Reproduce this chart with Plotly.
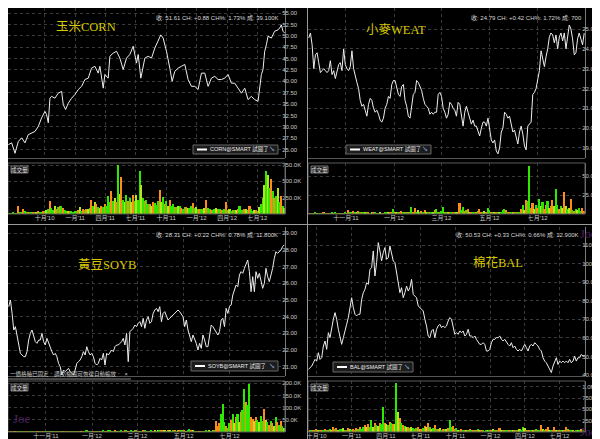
import plotly.graph_objects as go
import pandas as pd

W, H = 600, 439

# ================= DATA =================
# ---- CORN 玉米 ----
corn_dates = ["2010-06-14","2010-06-24","2010-07-04","2010-07-14","2010-07-24","2010-08-03","2010-08-13","2010-08-23","2010-09-02","2010-09-12",
              "2010-09-22","2010-10-02","2010-10-07","2010-10-12","2010-10-17","2010-10-22","2010-11-01","2010-11-11","2010-11-21","2010-11-26",
              "2010-12-03","2010-12-11","2010-12-21","2010-12-31","2011-01-10","2011-01-20","2011-01-30","2011-02-09","2011-02-19","2011-03-01",
              "2011-03-11","2011-03-16","2011-03-26","2011-03-31","2011-04-10","2011-04-15","2011-04-25","2011-05-05","2011-05-15","2011-05-25",
              "2011-06-04","2011-06-14","2011-06-24","2011-07-04","2011-07-09","2011-07-17","2011-07-24","2011-07-29","2011-08-08","2011-08-18",
              "2011-08-28","2011-09-07","2011-09-15","2011-09-22","2011-10-02","2011-10-12","2011-10-19","2011-10-27","2011-11-06","2011-11-16",
              "2011-11-26","2011-12-06","2011-12-16","2011-12-26","2012-01-05","2012-01-15","2012-01-25","2012-02-04","2012-02-14","2012-02-24",
              "2012-03-05","2012-03-15","2012-03-25","2012-04-04","2012-04-14","2012-04-24","2012-05-04","2012-05-14","2012-05-24","2012-06-03",
              "2012-06-13","2012-06-23","2012-07-03","2012-07-08","2012-07-13","2012-07-18","2012-07-23","2012-07-28","2012-08-02","2012-08-12",
              "2012-08-22","2012-09-01","2012-09-06","2012-09-11","2012-09-16","2012-09-21"]
corn_close = [26.1, 26.5, 24.2, 26.8, 27.6, 26.5, 28.3, 28.7, 29.0, 30.1,
              32.0, 33.4, 32.7, 30.9, 36.3, 36.7, 36.3, 37.4, 37.8, 34.9,
              33.8, 35.2, 36.3, 37.1, 38.2, 38.9, 40.4, 40.7, 42.9, 43.3,
              41.8, 43.3, 38.5, 41.5, 40.7, 45.5, 46.2, 46.6, 45.1, 42.6,
              45.1, 45.9, 47.7, 44.0, 45.9, 40.7, 43.7, 45.1, 45.5, 45.1,
              47.3, 49.1, 50.2, 49.5, 46.6, 42.9, 40.0, 42.2, 42.9, 43.3,
              43.7, 40.4, 38.9, 38.9, 38.2, 41.8, 41.8, 38.9, 40.7, 41.1,
              40.4, 40.4, 40.7, 41.5, 39.6, 39.6, 38.5, 37.4, 38.5, 36.0,
              36.7, 36.0, 35.6, 38.5, 41.5, 42.6, 46.6, 48.0, 49.9, 49.5,
              51.0, 51.3, 51.7, 52.4, 51.0, 50.6]
corn_span = ["2010-06-14", "2012-09-21"]
corn_vol_k = [10, 15, 10, 20, 15, 10, 120, 20, 30, 80,
              40, 25, 20, 30, 25, 20, 30, 25, 40, 35,
              30, 45, 40, 60, 80, 200, 90, 60, 130, 70,
              100, 130, 120, 90, 60, 40, 50, 45, 40, 35,
              50, 45, 60, 100, 50, 70, 60, 80, 70, 90,
              210, 120, 180, 150, 110, 90, 130, 100, 160, 120,
              270, 180, 350, 200, 250, 180, 745, 300, 560, 220,
              180, 290, 200, 250, 180, 290, 200, 290, 220, 665,
              450, 250, 200, 220, 150, 160, 130, 180, 170, 140,
              200, 370, 180, 260, 150, 200, 130, 220, 120, 160,
              100, 110, 130, 120, 90, 80, 100, 110, 90, 90,
              120, 170, 90, 110, 80, 80, 70, 80, 90, 210,
              90, 80, 60, 60, 80, 90, 70, 80, 60, 55,
              70, 185, 60, 70, 50, 55, 60, 65, 70, 130,
              60, 55, 70, 80, 60, 130, 70, 50, 55, 60,
              50, 110, 150, 240, 450, 660, 600, 400, 530, 350,
              240, 270, 400, 190, 270, 130, 90]
corn_vol_dir = ("goggogoggo ggoggogyog gogygoggyo gogoggyogg ggoygogoyg ogyogyogog ggogyogyog ygogyogygg "
                "ygoggoyogg goygogyogg ogygoggoyg gogygoggyo ggoggyogog gogygogyog ggoygoggyo gyggygygog ogygogy")

# ---- WEAT 小麥 ----
weat_span = ["2011-09-15", "2012-08-29"]
weat_close = [24.55, 24.8, 24.2, 23.0, 23.7, 23.8, 23.3, 22.8, 22.9, 23.0,
              22.9, 22.8, 22.9, 23.4, 22.7, 22.9, 22.5, 22.8, 23.2, 23.3,
              22.9, 24.0, 23.2, 23.0, 22.9, 23.1, 23.9, 23.0, 22.6, 22.3,
              22.0, 21.4, 21.1, 21.2, 20.9, 20.6, 21.2, 21.5, 21.4, 21.0,
              20.8, 20.9, 20.7, 20.4, 20.3, 20.5, 21.0, 21.2, 21.6, 21.5,
              22.2, 22.4, 22.4, 22.1, 21.7, 21.6, 22.1, 22.2, 21.4, 21.1,
              20.6, 20.5, 21.0, 21.7, 21.8, 22.4, 22.3, 22.1, 21.9, 21.5,
              21.2, 21.1, 21.0, 20.7, 20.8, 20.7, 20.8, 20.8, 21.7, 21.8,
              21.6, 21.0, 20.8, 20.5, 20.7, 21.3, 21.2, 21.0, 20.9, 20.6,
              21.3, 21.2, 20.7, 20.1, 20.8, 21.1, 20.8, 20.5, 20.2, 20.4,
              20.1, 20.1, 19.8, 19.6, 20.0, 20.3, 20.3, 20.1, 20.5, 19.8,
              19.4, 19.25, 19.4, 18.85, 18.7, 19.0, 19.8, 20.0, 20.8, 20.7,
              20.5, 20.6, 20.1, 19.8, 19.9, 19.6, 19.2, 19.8, 20.1, 19.7,
              19.1, 18.9, 20.1, 20.2, 20.3, 21.7, 21.8, 22.0, 22.4, 22.9,
              23.9, 23.5, 23.1, 23.6, 24.0, 24.6, 24.8, 24.7, 24.3, 24.7,
              24.0, 24.6, 24.8, 24.4, 24.8, 24.0, 24.5, 25.2, 25.0, 24.5,
              23.7, 23.8, 24.5, 24.8, 24.5, 24.2, 24.79]
weat_vol_k = [1, 1, 0.5, 1, 1.5, 1, 1, 0.5, 1, 2,
              1, 1, 0.5, 1, 1.5, 1, 2, 1, 1, 0.5,
              1, 1, 1.5, 1, 5.5, 3, 2, 4, 2, 3,
              4, 2, 3, 2, 2, 1.5, 2, 1, 2, 1.5,
              2, 1, 1, 1.5, 1, 1, 2, 1.5, 2, 2,
              3, 6, 3, 2, 2, 3, 4, 2, 2, 3,
              2, 2, 9, 3, 8, 3, 5, 2, 4, 3,
              5, 3, 2, 3, 2, 3, 5, 6, 3, 2,
              4, 9, 3, 2, 3, 2, 3, 2, 3, 2,
              3, 14, 5, 9, 4, 5, 7, 3, 3, 2,
              3, 2, 4, 7, 3, 2, 4, 3, 8, 5,
              3, 2, 3, 2, 3, 3, 2, 5, 7, 5,
              3, 2, 2, 3, 2, 2, 3, 3, 6, 12,
              5, 18, 17, 63, 8, 14, 6, 12, 8, 20,
              10, 16, 6, 12, 17, 8, 10, 18, 10, 33,
              12, 6, 10, 8, 29, 10, 6, 8, 20, 5,
              4, 6, 5, 8, 4, 8, 4]
weat_vol_dir = ("gogogygogo ggoogygogo gogooggogy ogogygogyo gogygoggyo ogoygooggo gogoogygog oygogyoggo "
                "ggogyogogy yoggogoyog gogoogyogg ogyogygggo gogyogogog yoggooygog ygoogyooyg gogyoygyog ogyggoo")

# ---- SOYB 黃豆 ----
soyb_span = ["2011-09-13", "2012-09-11"]
soyb_close = [24.6, 25.0, 24.2, 23.2, 23.4, 22.8, 22.2, 21.8, 21.7, 21.6,
              21.6, 21.9, 22.6, 23.0, 23.2, 22.9, 22.5, 22.4, 22.6, 22.6,
              23.0, 22.5, 22.3, 22.7, 22.4, 22.1, 21.9, 21.7, 21.8, 21.6,
              21.2, 21.0, 20.5, 20.8, 20.7, 20.8, 20.9, 20.7, 20.6, 20.5,
              20.8, 21.2, 21.3, 21.4, 21.6, 21.9, 21.7, 22.2, 21.9, 21.7,
              21.8, 21.6, 21.2, 21.1, 21.2, 21.5, 21.4, 21.8, 21.1, 21.8,
              21.7, 21.9, 22.0, 21.9, 22.2, 22.3, 22.3, 22.4, 22.5, 22.7,
              22.3, 23.0, 21.3, 23.1, 23.2, 23.3, 23.5, 23.4, 23.6, 23.7,
              23.4, 23.9, 23.3, 23.8, 24.0, 23.6, 23.7, 24.2, 24.4, 24.5,
              24.3, 24.6, 23.7, 24.2, 24.3, 24.0, 23.8, 23.9, 24.0, 24.1,
              24.2, 24.3, 24.4, 24.3, 24.1, 24.0, 23.4, 23.8, 23.2, 22.9,
              22.5, 22.9, 22.7, 22.4, 22.0, 22.4, 22.1, 22.9, 22.6, 22.2,
              22.2, 23.0, 23.5, 23.4, 23.2, 23.0, 22.9, 23.1, 23.8, 23.9,
              23.4, 24.5, 24.2, 24.6, 24.7, 25.3, 25.6, 25.9, 25.8, 26.5,
              26.7, 26.6, 26.9, 27.1, 27.4, 26.7, 25.5, 26.4, 25.5, 26.7,
              26.3, 26.6, 26.1, 25.7, 26.0, 26.9, 26.4, 26.1, 26.5, 26.9,
              27.5, 27.9, 27.8, 27.9, 28.0, 28.2, 28.31]
soyb_vol_k = [2, 1, 2, 1, 3, 2, 1, 2, 1, 2,
              1, 2, 1, 1, 2, 1, 2, 1, 1, 2,
              1, 2, 1, 2, 1, 1, 2, 1, 2, 1,
              2, 1, 3, 2, 1, 2, 1, 2, 1, 2,
              1, 2, 1, 2, 1, 2, 1, 5, 3, 2,
              2, 1, 2, 1, 2, 3, 2, 8, 3, 2,
              6, 10, 3, 4, 8, 3, 4, 2, 5, 3,
              8, 6, 4, 3, 5, 3, 8, 5, 3, 3,
              4, 5, 8, 3, 4, 3, 6, 3, 5, 4,
              8, 7, 5, 8, 6, 4, 8, 5, 4, 6,
              8, 4, 6, 10, 6, 5, 8, 4, 6, 12,
              10, 8, 4, 3, 3, 4, 4, 3, 4, 10,
              4, 5, 3, 5, 8, 45, 25, 35, 75, 115,
              40, 25, 15, 35, 50, 75, 35, 60, 75, 40,
              80, 90, 175, 125, 110, 195, 60, 55, 45, 60,
              50, 40, 65, 45, 95, 50, 40, 30, 45, 35,
              25, 60, 40, 30, 45, 25, 15]
soyb_vol_dir = ("gogoygogog ogoggogoyo gogoggyogo gogyogogog ogogyoggog gogogyoggo ggogoygogo ogyogyogoy "
                "gogogygoyg ygooygoygg ogyoggoygg oygogyogog gygogooogg goggogyogy oggoggooyo gyggoygogo ygogogy")

# ---- BAL 棉花 ----
bal_span = ["2010-09-09", "2012-09-05"]
bal_close = [43.0, 44.0, 44.8, 46.6, 48.4, 47.5, 52.0, 48.4, 49.3, 55.6,
             58.3, 53.8, 62.8, 60.1, 66.4, 70.0, 73.6, 70.0, 64.6, 61.0,
             56.5, 60.1, 64.6, 67.3, 70.9, 76.3, 81.6, 76.3, 72.7, 71.8,
             72.7, 72.7, 80.7, 84.3, 86.1, 89.7, 88.8, 96.9, 97.8, 106.8,
             93.3, 100.5, 111.3, 106.8, 101.4, 105.9, 108.6, 102.3, 103.2, 109.5,
             105.0, 101.4, 100.5, 94.2, 90.6, 84.3, 87.0, 81.6, 84.3, 87.9,
             85.2, 87.0, 91.5, 83.4, 82.5, 81.6, 77.2, 76.3, 75.4, 74.5,
             70.0, 66.4, 61.0, 60.1, 63.7, 64.6, 60.1, 64.6, 66.4, 67.3,
             65.5, 66.4, 65.5, 66.4, 69.1, 70.9, 70.0, 66.4, 61.9, 62.8,
             61.9, 63.7, 62.8, 63.7, 61.0, 61.9, 64.6, 61.0, 61.0, 60.1,
             61.0, 59.2, 57.4, 56.5, 56.5, 57.4, 56.5, 52.9, 52.9, 53.8,
             57.4, 59.2, 59.2, 60.1, 60.1, 61.0, 59.2, 58.3, 59.2, 57.4,
             56.5, 55.6, 57.4, 54.7, 55.6, 53.8, 52.9, 53.8, 52.9, 54.7,
             56.5, 54.7, 52.9, 55.6, 56.5, 55.6, 57.4, 56.5, 55.6, 53.8,
             52.9, 49.3, 47.5, 46.6, 44.8, 43.0, 41.3, 44.8, 47.5, 49.3,
             45.7, 47.5, 46.6, 47.5, 46.6, 47.5, 46.6, 48.4, 46.6, 47.5,
             50.2, 47.5, 49.3, 49.3, 51.1, 50.2, 50.53]
bal_vol_k = [20, 30, 40, 25, 40, 60, 30, 50, 40, 30,
             60, 40, 50, 70, 40, 100, 60, 90, 50, 70,
             60, 80, 50, 40, 90, 60, 40, 70, 50, 80,
             60, 100, 70, 110, 150, 100, 170, 120, 270, 120,
             200, 150, 140, 190, 170, 560, 200, 180, 150, 230,
             200, 170, 180, 1080, 445, 300, 200, 150, 130, 120,
             100, 80, 120, 90, 70, 80, 100, 60, 70, 90,
             130, 120, 200, 100, 60, 80, 150, 70, 60, 80,
             50, 60, 70, 60, 80, 260, 100, 130, 60, 90,
             50, 40, 60, 50, 40, 50, 40, 60, 30, 50,
             40, 30, 60, 40, 30, 40, 20, 40, 30, 50,
             30, 60, 40, 30, 50, 80, 40, 30, 40, 50,
             40, 30, 40, 30, 50, 40, 30, 60, 50, 100,
             80, 40, 30, 50, 40, 30, 40, 60, 40, 50,
             150, 70, 40, 60, 120, 40, 30, 40, 100, 50,
             40, 30, 40, 50, 30, 120, 60, 30, 40, 30,
             20, 40, 30, 50, 60, 30, 20]
bal_vol_dir = ("gogogoygog ogogyogoyg gyogoygogo goggoyoggy ogyoggoygo goygyogogy ogygogoyog oyogygogoy "
               "gogyoggoog ygogoygogo gogyogogyg oygogoygog gogyogoygg yogogyogog oygooygooy gogyoogogy ogygogg")

# ---- tick labels ----
quarter_ticks = ["2010-10-01", "2011-01-01", "2011-04-01", "2011-07-01",
                 "2011-10-01", "2012-01-01", "2012-04-01", "2012-07-01"]
quarter_labels = ["十月'10", "一月'11", "四月'11", "七月'11", "十月'11", "一月'12", "四月'12", "七月'12"]
bimonth_ticks = ["2011-11-01", "2012-01-01", "2012-03-01", "2012-05-01", "2012-07-01"]
bimonth_labels = ["十一月'11", "一月'12", "三月'12", "五月'12", "七月'12"]

corn_yticks = [25, 27.5, 30, 32.5, 35, 37.5, 40, 42.5, 45, 47.5, 50, 52.5, 55]
weat_yticks = [19, 20, 21, 22, 23, 24, 25]
soyb_yticks = [21, 22, 23, 24, 25, 26, 27, 28, 29]
bal_yticks = [40, 50, 60, 70, 80, 90, 100, 110]
corn_vticks, corn_vlabels = [250, 500, 750], ["250.0K", "500.0K", "750.0K"]
weat_vticks, weat_vlabels = [25, 50], ["25.0K", "50.0K"]
soyb_vticks, soyb_vlabels = [50, 100, 150, 200], ["50.0K", "100.0K", "150.0K", "200.0K"]
bal_vticks, bal_vlabels = [250, 500, 750, 1000], ["250.0K", "500.0K", "750.0K", "1.0M"]

headers = ["收: 51.61 CH: +0.88 CH%: 1.73% 成: 39.100K",
           "收: 24.79 CH: +0.42 CH%: 1.72% 成: 700",
           "收: 28.31 CH: +0.22 CH%: 0.78% 成: 11.800K",
           "收: 50.53 CH: +0.33 CH%: 0.66% 成: 12.900K"]
titles = ["玉米CORN", "小麥WEAT", "黃豆SOYB", "棉花BAL"]
legend_names = ["CORN@SMART 試圖了", "WEAT@SMART 試圖了", "SOYB@SMART 試圖了", "BAL@SMART 試圖了"]

# ================= STYLE =================
COL = {"g": "#2ee800", "o": "#ff8c1a", "y": "#b5e51d"}
GRID = "#3a3a3a"
AXIS = "#7a7a7a"
TXT = "#c8c8c8"
SANS = "Liberation Sans, Arial, Noto Sans CJK TC, sans-serif"
SERIF = "Liberation Serif, Noto Sans CJK TC, serif"


def xd(px):
    return px / W


def yd(py):
    return 1 - py / H


def sfx(n):
    return "" if n == 1 else str(n)


fig = go.Figure()
layout = {}
shapes = []
annotations = []


def note(text, x, y, size, color, family=SANS, xanchor="center", yanchor="middle"):
    annotations.append(dict(text=text, x=xd(x), y=yd(y), xref="paper", yref="paper", showarrow=False,
                            font=dict(size=size, color=color, family=family), xanchor=xanchor, yanchor=yanchor,
                            borderpad=0))


def rect(x0, y0, x1, y1, line="#666", fill="rgba(0,0,0,0)", width=1):
    shapes.append(dict(type="rect", xref="paper", yref="paper", x0=xd(x0), x1=xd(x1), y0=yd(y0), y1=yd(y1),
                       line=dict(color=line, width=width), fillcolor=fill, layer="above"))


def seg(x0, y0, x1, y1, color, width=1):
    shapes.append(dict(type="line", xref="paper", yref="paper", x0=xd(x0), x1=xd(x1), y0=yd(y0), y1=yd(y1),
                       line=dict(color=color, width=width), layer="above"))


panels = [
    dict(pd_x=corn_dates, close=corn_close, vol=corn_vol_k, vdir=corn_vol_dir, span=corn_span,
         xt=quarter_ticks, xl=quarter_labels, x0=0, x1=277, ptop=0, pbot=150, vtop=155, vbot=206,
         yr=[23.17, 56.10], ytv=corn_yticks, vr=[0, 782], vtv=corn_vticks, vtt=corn_vlabels),
    dict(pd_x=None, close=weat_close, vol=weat_vol_k, vdir=weat_vol_dir, span=weat_span,
         xt=bimonth_ticks, xl=bimonth_labels, x0=300, x1=577, ptop=0, pbot=150, vtop=155, vbot=206,
         yr=[18.49, 26.06], ytv=weat_yticks, vr=[0, 67.1], vtv=weat_vticks, vtt=weat_vlabels),
    dict(pd_x=None, close=soyb_close, vol=soyb_vol_k, vdir=soyb_vol_dir, span=soyb_span,
         xt=bimonth_ticks, xl=bimonth_labels, x0=0, x1=277, ptop=219, pbot=368, vtop=373, vbot=424,
         yr=[20.44, 29.38], ytv=soyb_yticks, vr=[0, 209], vtv=soyb_vticks, vtt=soyb_vlabels),
    dict(pd_x=None, close=bal_close, vol=bal_vol_k, vdir=bal_vol_dir, span=bal_span,
         xt=quarter_ticks, xl=quarter_labels, x0=300, x1=577, ptop=219, pbot=368, vtop=373, vbot=424,
         yr=[39.46, 119.69], ytv=bal_yticks, vr=[0, 1125], vtv=bal_vticks, vtt=bal_vlabels),
]

for i, p in enumerate(panels):
    n = i + 1
    m = i + 5
    start, end = pd.Timestamp(p["span"][0]), pd.Timestamp(p["span"][1])
    px_dates = pd.to_datetime(p["pd_x"]) if p["pd_x"] is not None else pd.date_range(start, end, periods=len(p["close"]))
    v_dates = pd.date_range(start, end, periods=len(p["vol"]))
    step_ms = (end - start).total_seconds() * 1000 / (len(p["vol"]) - 1)
    dirs = p["vdir"].replace(" ", "")
    colors = [COL.get(dirs[k] if k < len(dirs) else "g", COL["g"]) for k in range(len(p["vol"]))]

    fig.add_trace(go.Bar(x=v_dates, y=p["vol"], marker=dict(color=colors, line=dict(width=0)),
                         width=step_ms * 0.95, xaxis="x" + sfx(m), yaxis="y" + sfx(m),
                         hoverinfo="skip"))
    fig.add_trace(go.Scatter(x=px_dates, y=p["close"], mode="lines",
                             line=dict(color="#eeeeee", width=1.0), xaxis="x" + sfx(n), yaxis="y" + sfx(n),
                             hoverinfo="skip"))

    xr = [start - pd.Timedelta(days=1), end + pd.Timedelta(days=1)]
    xbase = dict(type="date", domain=[xd(p["x0"]), xd(p["x1"])], range=xr, tickvals=p["xt"], ticktext=p["xl"],
                 ticks="", showgrid=True, gridcolor=GRID, griddash="dot", gridwidth=1, zeroline=False,
                 showline=False, fixedrange=True)
    layout["xaxis" + sfx(n)] = dict(xbase, anchor="y" + sfx(n), showticklabels=False)
    layout["xaxis" + sfx(m)] = dict(xbase, anchor="y" + sfx(m), showticklabels=True,
                                    tickfont=dict(size=6, color=TXT, family=SANS), ticklabelstandoff=-1)
    ybase = dict(side="right", ticks="", showgrid=True, gridcolor=GRID, griddash="dot", gridwidth=1,
                 zeroline=False, showline=True, linecolor=AXIS, linewidth=1, fixedrange=True,
                 tickfont=dict(size=6, color=TXT, family=SANS), ticklabelstandoff=-5)
    layout["yaxis" + sfx(n)] = dict(ybase, anchor="x" + sfx(n), domain=[yd(p["pbot"]), yd(p["ptop"])],
                                    range=p["yr"], tickvals=p["ytv"], ticktext=[f"{v:.2f}" for v in p["ytv"]])
    layout["yaxis" + sfx(m)] = dict(ybase, anchor="x" + sfx(m), domain=[yd(p["vbot"]), yd(p["vtop"])],
                                    range=p["vr"], tickvals=p["vtv"], ticktext=p["vtt"])

    # pane borders
    seg(p["x0"], p["pbot"] + 0.5, p["x1"], p["pbot"] + 0.5, "#555")
    rect(p["x0"], p["vtop"], p["x1"], p["vbot"], line="#5a5a5a")

    # 成交量 tag
    tx = p["x0"] + 3
    rect(tx, p["vtop"] + 3, tx + 17, p["vtop"] + 10, line="#777", fill="#1a1a1a")
    note("成交量", tx + 8.5, p["vtop"] + 6.5, 5.5, "#dddddd")

# header texts
note(headers[0], 272, 10, 6, "#d8d8d8", xanchor="right")
note(headers[1], 575, 10, 6, "#d8d8d8", xanchor="right")
note(headers[2], 271, 227, 6, "#d8d8d8", xanchor="right")
note(headers[3], 572, 227, 6, "#d8d8d8", xanchor="right")

# titles
TCOL = "#d9c900"
note(titles[0], 78, 18.5, 12.5, TCOL, family=SERIF)
note(titles[1], 387.5, 21.5, 12.5, TCOL, family=SERIF)
note(titles[2], 98.5, 256.5, 12.5, TCOL, family=SERIF)
note(titles[3], 490, 254.5, 12.5, TCOL, family=SERIF)

# legend boxes
for (lx0, ly0, lx1, ly1), name in zip([(185, 137, 270, 146), (338, 137, 423, 146),
                                       (183, 353, 270, 363), (325, 354, 405, 364)], legend_names):
    rect(lx0, ly0, lx1, ly1, line="#666", fill="#1c1c1c")
    my = (ly0 + ly1) / 2
    seg(lx0 + 4, my, lx0 + 14, my, "#ffffff", 2)
    note(name, lx0 + 16, my, 5.5, "#eeeeee", xanchor="left")
    note("↘", lx1 - 6, my, 6, "#8ab8e8")

# message in SOYB pane
note("一價格軸已固定．調校/縮圖可恢復自動縮放．  ×", 1, 366, 5.5, "#cccccc", xanchor="left")
seg(0, 371, 123, 371, "#888")

# separators
seg(299.5, 0, 299.5, 439, "#9a9a9a", 1)
seg(0, 216.5, 600, 216.5, "#9a9a9a", 1)

# watermarks
JOE = "#4e2263"
note("Joe", 14, 410, 13, JOE, family=SERIF)
note("Joe", 580, 226, 12, JOE, family=SERIF)
note("Joe", 580, 424, 12, JOE, family=SERIF)

fig.update_layout(width=W, height=H, margin=dict(l=0, r=0, t=0, b=0), paper_bgcolor="#000000",
                  plot_bgcolor="#000000", showlegend=False, template="none", bargap=0,
                  shapes=shapes, annotations=annotations, **layout)

fig.write_html("out.html")
